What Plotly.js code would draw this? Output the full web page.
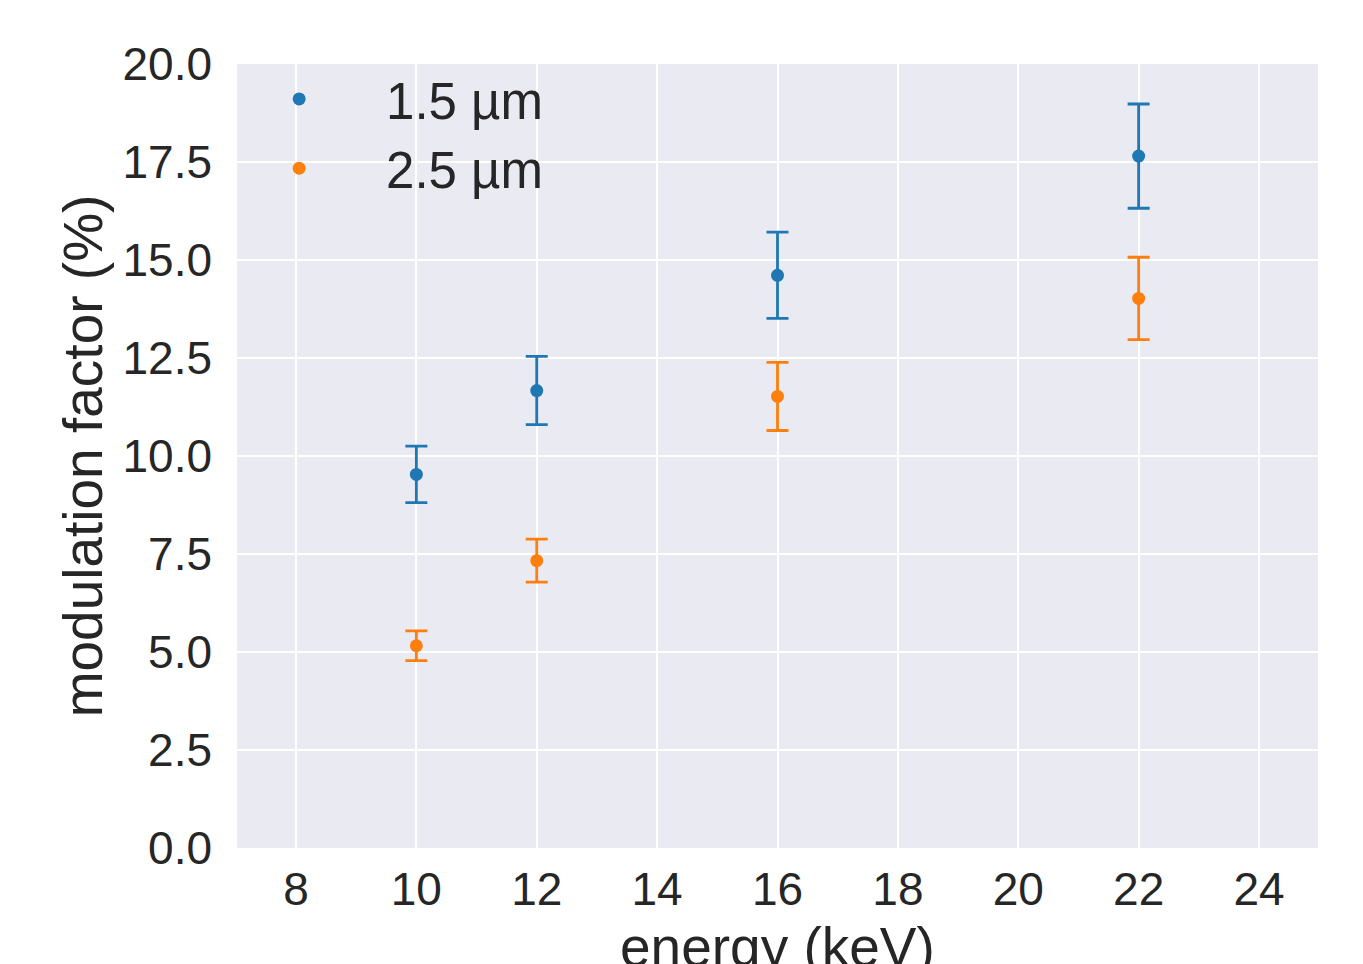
<!DOCTYPE html>
<html>
<head>
<meta charset="utf-8">
<script src="https://cdn.plot.ly/plotly-3.0.1.min.js"></script>
<style>html,body{margin:0;padding:0;background:#fff;}#chart{width:1363px;height:964px;}</style>
</head>
<body>
<div id="chart"></div>
<script>
const energy = [10, 12, 16, 22];
const mf15 = [9.53, 11.67, 14.61, 17.65];
const err15 = [0.72, 0.87, 1.10, 1.33];
const mf25 = [5.16, 7.33, 11.52, 14.02];
const err25 = [0.38, 0.55, 0.87, 1.05];
const seriesNames = ['1.5 µm', '2.5 µm'];
const xTicks = [8, 10, 12, 14, 16, 18, 20, 22, 24];
const yTicks = [0, 2.5, 5, 7.5, 10, 12.5, 15, 17.5, 20];
const yTickText = yTicks.map(v => v.toFixed(1));
const xTitle = 'energy (keV)';
const yTitle = 'modulation factor (%)';

const font = 'Arial, "Liberation Sans", sans-serif';
const txt = '#262626';
const pad = '\u00a0\u00a0\u00a0\u00a0\u2009';

function tr(y, e, name, color) {
  return {
    x: energy, y: y, name: pad + name, type: 'scatter', mode: 'markers',
    marker: {color: color, size: 13},
    error_y: {type: 'data', array: e, visible: true, color: color, thickness: 2.8, width: 11}
  };
}

const data = [
  tr(mf15, err15, seriesNames[0], '#1f77b4'),
  tr(mf25, err25, seriesNames[1], '#ff7f0e')
];

const layout = {
  width: 1363, height: 964,
  paper_bgcolor: '#ffffff', plot_bgcolor: '#EAEAF2',
  margin: {l: 237, r: 45, t: 64, b: 116},
  font: {family: font, color: txt, size: 46},
  showlegend: true,
  legend: {
    x: 0.039, y: 1.006, xanchor: 'left', yanchor: 'top',
    bgcolor: 'rgba(0,0,0,0)', borderwidth: 0,
    font: {size: 51, color: txt, family: font},
    tracegroupgap: 0
  },
  xaxis: {
    range: [7.02, 24.98], tickvals: xTicks, ticktext: xTicks.map(String),
    showgrid: true, gridcolor: '#ffffff', gridwidth: 2, zeroline: false,
    showline: false, ticks: '', ticklabelstandoff: 10,
    tickfont: {size: 46, color: txt, family: font}
  },
  yaxis: {
    range: [0, 20], tickvals: yTicks, ticktext: yTickText,
    showgrid: true, gridcolor: '#ffffff', gridwidth: 2, zeroline: false,
    showline: false, ticks: '', ticklabelstandoff: 24,
    tickfont: {size: 46, color: txt, family: font},
    title: {text: yTitle, font: {size: 55, color: txt, family: font}, standoff: 2}
  },
  annotations: [{
    text: xTitle, xref: 'paper', yref: 'paper', x: 0.5, y: -0.084,
    xanchor: 'center', yanchor: 'top', showarrow: false,
    font: {size: 55, color: txt, family: font}
  }]
};

Plotly.newPlot('chart', data, layout, {displayModeBar: false, staticPlot: true});
</script>
</body>
</html>
